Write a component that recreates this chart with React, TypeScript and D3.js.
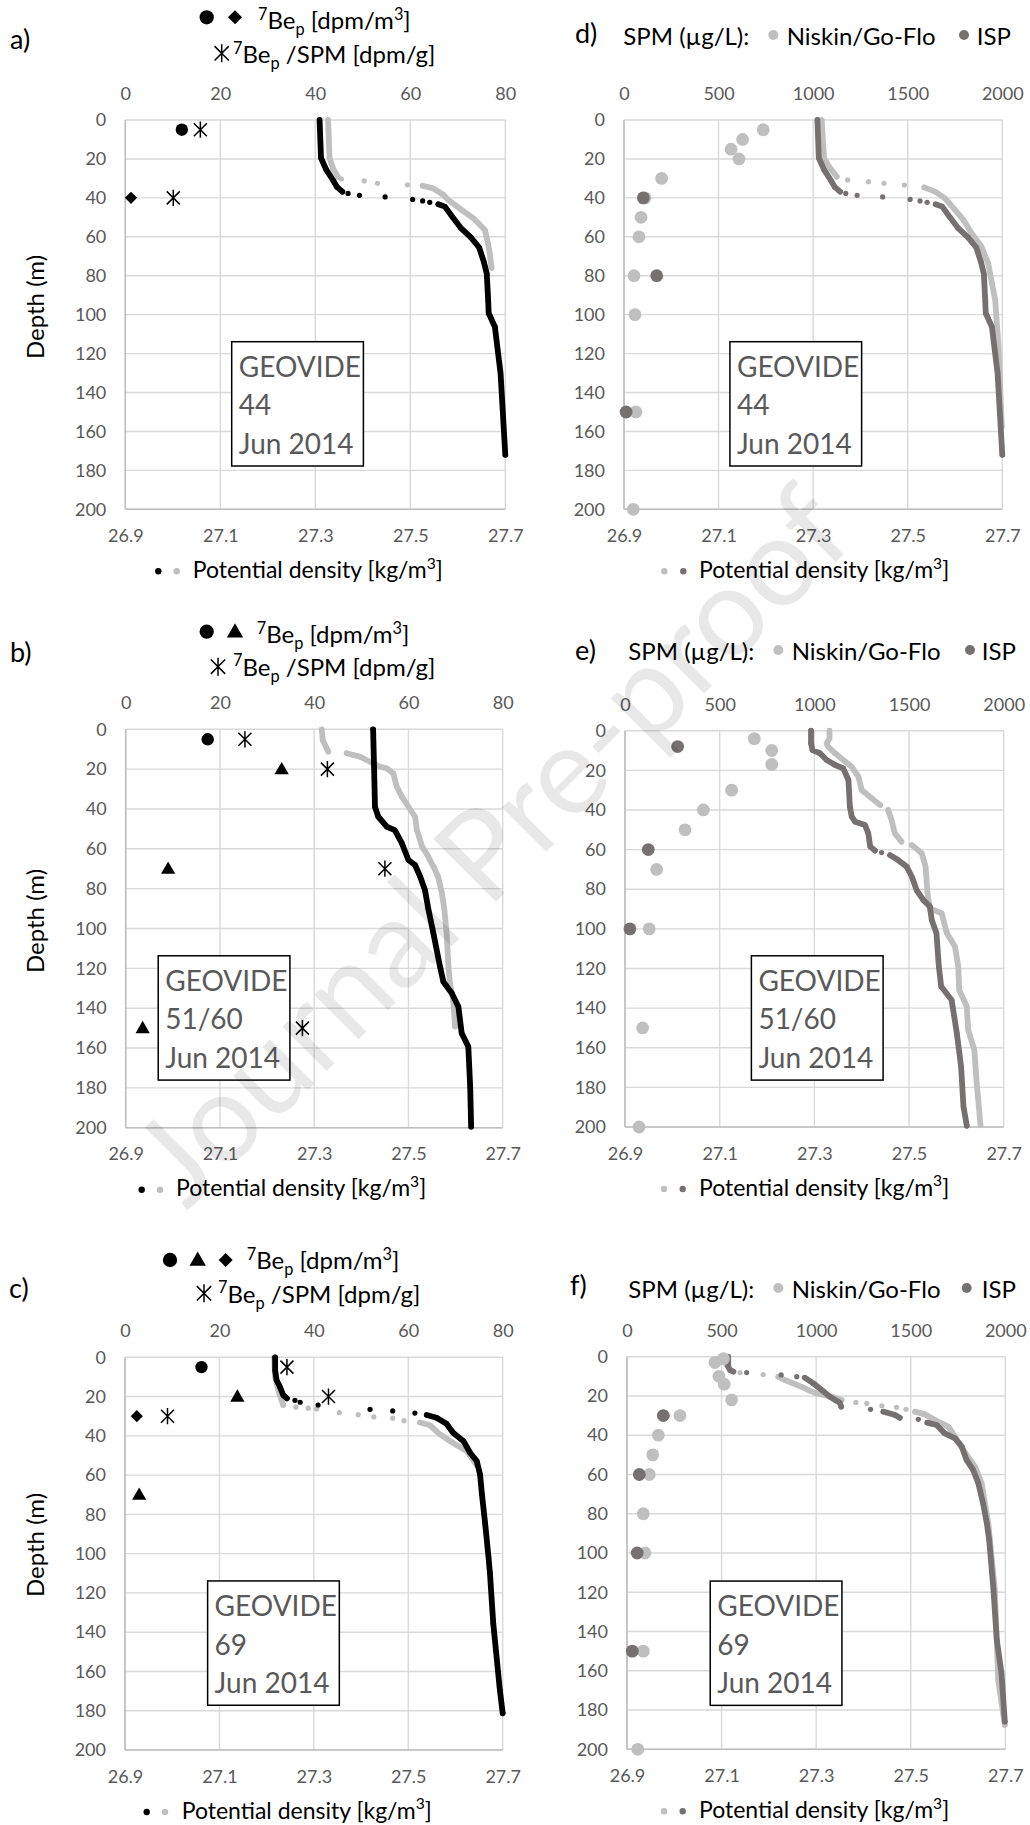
import React, { useEffect, useRef } from 'react'
import * as d3 from 'd3'

type P = [number, number] | null

// ---- axis ticks
const sigmaTicks = [26.9, 27.1, 27.3, 27.5, 27.7]
const beTicks = [0, 20, 40, 60, 80]
const spmTicks = [0, 500, 1000, 1500, 2000]
const depthTicks = [0, 20, 40, 60, 80, 100, 120, 140, 160, 180, 200]

// ---- potential density profiles: [depth m, sigma kg/m3], null = gap between points
const sigma44Black: P[] = [
  [0, 27.309], [19.5, 27.312], [25.5, 27.323], [30.8, 27.337], [34.5, 27.346], [36.8, 27.357], null,
  [37.7, 27.369], null, [38.7, 27.393], null, [39.5, 27.447], null, [40.8, 27.505], null, [41.6, 27.526], null,
  [42.3, 27.541], null, [43.3, 27.559], [44.5, 27.573], [49.9, 27.589], [55.4, 27.606], [60.2, 27.627],
  [65.5, 27.645], [73, 27.655], [79, 27.661], [93, 27.664], [99.3, 27.665], [106.2, 27.678], [130, 27.69], [172, 27.7],
]
const sigma44GreyA: P[] = [
  [0, 27.327], [19.7, 27.33], [25.3, 27.338], [29.3, 27.348], null, [30.3, 27.355], null, [31.3, 27.403], null,
  [32.5, 27.431], null, [33.3, 27.494], null, [33.8, 27.526], [35.1, 27.548], [38.5, 27.57], [41.1, 27.58],
  [46.2, 27.608], [50.5, 27.633], [56.5, 27.657], [61.6, 27.662], [68, 27.667], [76, 27.671],
]
const sigma44Light: P[] = [
  [0, 27.318], [19.8, 27.323], [24.8, 27.336], [29.1, 27.35], null, [30.8, 27.373], null, [31.7, 27.417], null,
  [32.5, 27.45], null, [33.4, 27.493], null, [34.6, 27.535], [36.8, 27.558], [40.3, 27.579], [46.2, 27.6],
  [51.4, 27.618], [58.2, 27.635], [65.1, 27.656], [73.6, 27.67], [92.5, 27.685], [116.5, 27.692], [157.6, 27.699],
]
const sigma5160Black: P[] = [
  [0, 27.425], [18.8, 27.427], [38.9, 27.429], [43.9, 27.436], [48.9, 27.454], [50.6, 27.471], [57.2, 27.486],
  [65.6, 27.5], [68.1, 27.514], [74, 27.525], [80.7, 27.535], [90, 27.542], [102.4, 27.553], [119.2, 27.567],
  [126.7, 27.574], [132.5, 27.592], [139.3, 27.606], [152.6, 27.613], [159.3, 27.627], [179.4, 27.631], [199.5, 27.633],
]
const sigma5160Grey: P[] = [
  [0, 27.316], [5.4, 27.318], [11.2, 27.33], null, [12, 27.369], [12.9, 27.383], [13.7, 27.397], [15.4, 27.411],
  [16.7, 27.422], [18.8, 27.44], [19.6, 27.454], [22.1, 27.468], [28.8, 27.475], [33.8, 27.486], [38.9, 27.5],
  [43.9, 27.514], [50.6, 27.518], [58.9, 27.529], [63.9, 27.542], [68.9, 27.553], [74, 27.563], [82.3, 27.571],
  [90, 27.576], [102.4, 27.581], [119.2, 27.585], [127.5, 27.588], [135.9, 27.595], [149.2, 27.599],
]
const sigma5160Dark: P[] = [
  [0, 27.293], [6.4, 27.293], [9.8, 27.296], [11.4, 27.312], [14.8, 27.326], [17.3, 27.344], [19, 27.361],
  [24.9, 27.372], [38.3, 27.375], [43.4, 27.379], [45.9, 27.386], [47.6, 27.407], [51.8, 27.414], [58.5, 27.418],
  [60.5, 27.428], null, [61.5, 27.442], null, [62.8, 27.46], [65.3, 27.477], [68.6, 27.495], [73.7, 27.506],
  [80.4, 27.516], [85.4, 27.53], [88.8, 27.544], [95.5, 27.548], [102.2, 27.558], [119, 27.563], [129.1, 27.568],
  [135.9, 27.59], [152.7, 27.601], [169.5, 27.61], [189.6, 27.615], [199.4, 27.622],
]
const sigma5160Light: P[] = [
  [0, 27.332], [3.9, 27.332], [6.4, 27.326], [8, 27.329], [11.4, 27.344], [14.8, 27.361], [18.2, 27.379],
  [23.2, 27.393], [29.9, 27.4], [34.1, 27.421], [37.5, 27.439], null, [40, 27.456], [45, 27.463], [51.8, 27.47],
  [56, 27.484], null, [57.7, 27.506], [61.9, 27.527], [68.6, 27.535], [82.1, 27.539], [89.7, 27.544],
  [92.1, 27.569], [102.2, 27.58], [108.9, 27.597], [119, 27.604], [130.8, 27.606], [139.2, 27.622], [151, 27.625],
  [161.1, 27.638], [177.9, 27.643], [199.1, 27.651],
]
const sigma69Black: P[] = [
  [0, 27.218], [6.5, 27.218], [11.6, 27.221], [15, 27.228], [19.2, 27.235], [20.9, 27.243], null, [21.9, 27.26],
  null, [22.9, 27.271], null, [24.3, 27.309], null, [26.5, 27.419], null, [27.3, 27.467], null, [28.4, 27.514],
  null, [29.4, 27.539], [30.8, 27.56], [33.8, 27.581], [38.4, 27.595], [42.7, 27.617], [48.6, 27.631],
  [52.8, 27.645], [59.6, 27.652], [69.8, 27.656], [85.1, 27.663], [102, 27.67], [110, 27.673], [135.5, 27.68],
  [152.5, 27.687], [169.4, 27.694], [181.3, 27.7],
]
const sigma69Grey: P[] = [
  [0, 27.216], [10, 27.218], [18, 27.226], [24.3, 27.235], null, [25.4, 27.262], null, [25.9, 27.288], null,
  [26.3, 27.306], null, [28.2, 27.354], null, [29.2, 27.394], null, [30.3, 27.427], null, [31, 27.467], null,
  [32.3, 27.491], null, [33.2, 27.525], [34.6, 27.546], [39.2, 27.567], [42.6, 27.588], [48, 27.625], [55, 27.645],
]
const sigma69Dark: P[] = [
  [0, 27.114], [5.1, 27.114], [6.8, 27.118], [7.6, 27.125], null, [8.1, 27.153], null, [9.3, 27.226], null,
  [10.2, 27.259], null, [10.7, 27.276], [13.6, 27.294], [17, 27.312], [20.4, 27.329], [23.5, 27.35], [25.5, 27.353],
  null, [26.8, 27.415], null, [28, 27.442], [28.9, 27.456], [29.7, 27.467], [31.1, 27.477], null, [31.9, 27.516],
  null, [33.6, 27.535], [34.8, 27.555], [39.1, 27.572], [41.6, 27.594], [45.8, 27.608], [52.6, 27.618],
  [57.7, 27.632], [64.5, 27.643], [74.7, 27.653], [84.9, 27.661], [93.5, 27.666], [118.8, 27.675],
  [144.3, 27.682], [161.3, 27.692], [185.9, 27.699],
]
const sigma69Light: P[] = [
  [0, 27.108], [4, 27.11], null, [8.1, 27.139], null, [9.1, 27.188], null, [10.2, 27.22], [11.9, 27.234],
  [15.3, 27.269], [17.4, 27.287], [18.7, 27.301], [20.4, 27.333], [22.1, 27.354], null, [23.3, 27.384], null,
  [23.8, 27.407], null, [25, 27.439], null, [25.8, 27.47], null, [26.8, 27.49], null, [28, 27.509], [29.4, 27.53],
  [32.2, 27.551], [35.6, 27.579], [38.2, 27.587], [47.5, 27.611], [56, 27.636], [64.5, 27.65], [84.9, 27.664],
  [118.8, 27.678], [164.7, 27.685], [187.6, 27.699],
]

// ---- 7Be_p (dpm/m3) and 7Be_p/SPM (dpm/g): [depth m, value]
const beCircle44: [number, number][] = [[5, 11.9]]
const beDiamond44: [number, number][] = [[40, 1.2]]
const beRatio44: [number, number][] = [[5, 15.8], [40, 10.1]]
const beCircle5160: [number, number][] = [[5, 17.4]]
const beTriangle5160: [number, number][] = [[20, 33.1], [70, 9.0], [150, 3.6]]
const beRatio5160: [number, number][] = [[5, 25.3], [20, 42.8], [70, 55.0], [150, 37.5]]
const beCircle69: [number, number][] = [[5, 16.2]]
const beTriangle69: [number, number][] = [[20, 23.8], [70, 3.0]]
const beDiamond69: [number, number][] = [[30, 2.5]]
const beRatio69: [number, number][] = [[5, 34.3], [20, 43.1], [30, 9.0]]

// ---- SPM (ug/L): [depth m, value]
const spmNiskin44: [number, number][] = [[5, 736], [10, 627], [15, 566], [20, 608], [30, 199], [40, 111], [50, 90], [60, 79], [80, 53], [100, 58], [150, 63], [200, 49]]
const spmIsp44: [number, number][] = [[40, 102], [80, 173], [150, 11]]
const spmNiskin5160: [number, number][] = [[4, 683], [10, 775], [17, 775], [30, 563], [40, 414], [50, 317], [70, 167], [100, 128], [150, 93], [200, 74]]
const spmIsp5160: [number, number][] = [[8, 278], [60, 123], [100, 26]]
const spmNiskin69: [number, number][] = [[1, 510], [3, 465], [10, 486], [14, 514], [22, 553], [30, 280], [40, 166], [50, 136], [60, 118], [80, 86], [100, 95], [150, 86], [200, 57]]
const spmIsp69: [number, number][] = [[30, 192], [60, 65], [100, 54], [150, 28]]

const FONT = "Lato, 'Open Sans', sans-serif"
const BLACK = '#000000'
const GREY = '#bfbfbf'
const DARK = '#767171'
const GRID = '#d9d9d9'
const AXIS = '#bfbfbf'
const TICK = '#595959'

const panels: any[] = [
  {
    kind: 'be', letter: 'a)', frame: { left: 125.3, right: 505.3, top: 120, bottom: 509.3 }, title: [10, 49.3],
    legend: { y1: 17.3, b1: 29.3, y2: 53.3, b2: 63.3, marks: [['circle', 206.7], ['diamond', 235]], t1: 258, star: 221.7, t2: 233 },
    dens: { x: 192.7, dots: [158.3, 176.7], colors: [BLACK, GREY] }, depthY: 307,
    note: { sigma: 27.124, depth: 113.9, lines: ['GEOVIDE', '44', 'Jun 2014'] },
    profiles: [[sigma44GreyA, GREY], [sigma44Black, BLACK]],
    circles: beCircle44, triangles: [], diamonds: beDiamond44, ratio: beRatio44,
  },
  {
    kind: 'be', letter: 'b)', frame: { left: 125.7, right: 502.7, top: 729.3, bottom: 1127.7 }, title: [10, 661.7],
    legend: { y1: 631.7, b1: 643.3, y2: 666.7, b2: 676, marks: [['circle', 206.7], ['triangle', 235]], t1: 256.7, star: 218, t2: 233 },
    dens: { x: 176, dots: [141.7, 160], colors: [BLACK, GREY] }, depthY: 921,
    note: { sigma: 26.969, depth: 113.7, lines: ['GEOVIDE', '51/60', 'Jun 2014'] },
    profiles: [[sigma5160Grey, GREY], [sigma5160Black, BLACK]],
    circles: beCircle5160, triangles: beTriangle5160, diamonds: [], ratio: beRatio5160,
  },
  {
    kind: 'be', letter: 'c)', frame: { left: 125, right: 502.7, top: 1357.3, bottom: 1750 }, title: [9, 1298],
    legend: { y1: 1260, b1: 1269.3, y2: 1293.3, b2: 1302.7, marks: [['circle', 170], ['triangle', 197.7], ['diamond', 225.7]], t1: 246.7, star: 204, t2: 218 },
    dens: { x: 181.7, dots: [146.7, 165], colors: [BLACK, GREY] }, depthY: 1545,
    note: { sigma: 27.075, depth: 113.9, lines: ['GEOVIDE', '69', 'Jun 2014'] },
    profiles: [[sigma69Grey, GREY], [sigma69Black, BLACK]],
    circles: beCircle69, triangles: beTriangle69, diamonds: beDiamond69, ratio: beRatio69,
  },
  {
    kind: 'spm', letter: 'd)', frame: { left: 624, right: 1002.3, top: 120, bottom: 509.3 }, title: [575, 43.3],
    legend: { b: 45, dotY: 35, spm: 623.3, dot1: 773.3, nis: 786.7, dot2: 964, isp: 976.7 },
    dens: { x: 699, dots: [664.3, 683.3], colors: [GREY, DARK] },
    note: { sigma: 27.124, depth: 113.9, lines: ['GEOVIDE', '44', 'Jun 2014'] },
    profiles: [[sigma44Light, GREY], [sigma44Black, DARK]],
    niskin: spmNiskin44, isp: spmIsp44,
  },
  {
    kind: 'spm', letter: 'e)', frame: { left: 625, right: 1003.7, top: 730.7, bottom: 1127 }, title: [575, 660],
    legend: { b: 660, dotY: 650, spm: 628.3, dot1: 778.3, nis: 791.7, dot2: 970, isp: 981.7 },
    dens: { x: 699, dots: [664, 682.7], colors: [GREY, DARK] },
    note: { sigma: 27.167, depth: 113.6, lines: ['GEOVIDE', '51/60', 'Jun 2014'] },
    profiles: [[sigma5160Light, GREY], [sigma5160Dark, DARK]],
    niskin: spmNiskin5160, isp: spmIsp5160,
  },
  {
    kind: 'spm', letter: 'f)', frame: { left: 627, right: 1005.3, top: 1356.7, bottom: 1749.3 }, title: [570, 1295],
    legend: { b: 1297.5, dotY: 1288, spm: 628.3, dot1: 778.3, nis: 791.7, dot2: 966.7, isp: 981.7 },
    dens: { x: 699, dots: [664, 682.7], colors: [GREY, DARK] },
    note: { sigma: 27.076, depth: 114.3, lines: ['GEOVIDE', '69', 'Jun 2014'] },
    profiles: [[sigma69Light, GREY], [sigma69Dark, DARK]],
    niskin: spmNiskin69, isp: spmIsp69,
  },
]

function runs(data: P[]) {
  const out: [number, number][][] = []
  let cur: [number, number][] = []
  data.forEach(d => {
    if (d) cur.push(d)
    else { if (cur.length) out.push(cur); cur = [] }
  })
  if (cur.length) out.push(cur)
  return out
}

// text with super/subscripts
function rich(sel: any, parts: [string, string][], size: number) {
  let shift = 0
  parts.forEach(([t, k]) => {
    const target = k === 'sup' ? -0.4 * size : k === 'sub' ? 0.25 * size : 0
    sel.append('tspan').attr('dy', target - shift).attr('font-size', k === 'n' ? size : size * 0.68).text(t)
    shift = target
  })
}

const starPath = (s: number) => `M${-s},${-s}L${s},${s}M${-s},${s}L${s},${-s}M0,${-s * 1.25}L0,${s * 1.25}`

function marker(g: any, type: string, cx: number, cy: number, scale = 1) {
  if (type === 'circle') {
    g.append('circle').attr('cx', cx).attr('cy', cy).attr('r', 6.2 * scale).attr('fill', BLACK)
  } else if (type === 'triangle') {
    g.append('path').attr('transform', `translate(${cx},${cy + 1})`)
      .attr('d', d3.symbol().type(d3.symbolTriangle).size(88 * scale * scale)()).attr('fill', BLACK)
  } else if (type === 'diamond') {
    g.append('path').attr('transform', `translate(${cx},${cy}) rotate(45)`)
      .attr('d', d3.symbol().type(d3.symbolSquare).size(74 * scale * scale)()).attr('fill', BLACK)
  } else {
    g.append('path').attr('transform', `translate(${cx},${cy})`).attr('d', starPath(6.5 * scale))
      .attr('stroke', BLACK).attr('stroke-width', 1.5).attr('fill', 'none')
  }
}

function drawPanel(svg: any, p: any) {
  const f = p.frame
  const x = d3.scaleLinear().domain([26.9, 27.7]).range([f.left, f.right])
  const xTop = d3.scaleLinear().domain(p.kind === 'be' ? [0, 80] : [0, 2000]).range([f.left, f.right])
  const y = d3.scaleLinear().domain([0, 200]).range([f.top, f.bottom])
  const g = svg.append('g')

  // grid
  g.append('g').selectAll('line').data(depthTicks).join('line')
    .attr('x1', f.left).attr('x2', f.right).attr('y1', (d: number) => y(d)).attr('y2', (d: number) => y(d))
    .attr('stroke', GRID).attr('stroke-width', 1.4)
  g.append('g').selectAll('line').data(sigmaTicks).join('line')
    .attr('x1', (d: number) => x(d)).attr('x2', (d: number) => x(d)).attr('y1', f.top).attr('y2', f.bottom)
    .attr('stroke', GRID).attr('stroke-width', 1.4)
  g.append('line').attr('x1', f.left).attr('x2', f.left).attr('y1', f.top).attr('y2', f.bottom)
    .attr('stroke', AXIS).attr('stroke-width', 1.6)
  g.append('line').attr('x1', f.left).attr('x2', f.right).attr('y1', f.bottom).attr('y2', f.bottom)
    .attr('stroke', AXIS).attr('stroke-width', 1.6)

  // axes labels
  const style = (a: any) => {
    a.select('.domain').remove()
    a.attr('font-family', FONT).attr('font-size', 18)
    a.selectAll('text').attr('fill', TICK)
  }
  g.append('g').attr('transform', `translate(0,${f.bottom})`)
    .call(d3.axisBottom(x).tickValues(sigmaTicks).tickFormat(d3.format('.1f')).tickSize(0).tickPadding(20)).call(style)
  g.append('g').attr('transform', `translate(0,${f.top})`)
    .call(d3.axisTop(xTop).tickValues(p.kind === 'be' ? beTicks : spmTicks).tickFormat(d3.format('d')).tickSize(0).tickPadding(20)).call(style)
  g.append('g').attr('transform', `translate(${f.left},0)`)
    .call(d3.axisLeft(y).tickValues(depthTicks).tickFormat(d3.format('d')).tickSize(0).tickPadding(19)).call(style)

  // annotation box
  const bx = x(p.note.sigma), by = y(p.note.depth)
  g.append('rect').attr('x', bx).attr('y', by).attr('width', 131.7).attr('height', 124.3)
    .attr('fill', '#fff').attr('stroke', BLACK).attr('stroke-width', 1.5)
  p.note.lines.forEach((t: string, i: number) => {
    g.append('text').attr('x', bx + 7).attr('y', by + 35 + i * 38.7).attr('font-size', 28)
      .attr('fill', TICK).attr('font-family', FONT).text(t)
  })

  // density profiles
  const line = d3.line<[number, number]>().x(d => x(d[1])).y(d => y(d[0]))
  p.profiles.forEach(([data, color]: [P[], string]) => {
    const pg = g.append('g')
    runs(data).filter(r => r.length > 1).forEach(r => {
      pg.append('path').attr('d', line(r)).attr('fill', 'none').attr('stroke', color)
        .attr('stroke-width', 5.8).attr('stroke-linecap', 'round').attr('stroke-linejoin', 'round')
    })
    pg.selectAll('circle').data(data.filter(d => d) as [number, number][]).join('circle')
      .attr('cx', d => x(d[1])).attr('cy', d => y(d[0])).attr('r', 2.6).attr('fill', color)
  })

  if (p.kind === 'be') {
    p.circles.forEach((d: [number, number]) => marker(g, 'circle', xTop(d[1]), y(d[0])))
    p.triangles.forEach((d: [number, number]) => marker(g, 'triangle', xTop(d[1]), y(d[0])))
    p.diamonds.forEach((d: [number, number]) => marker(g, 'diamond', xTop(d[1]), y(d[0])))
    p.ratio.forEach((d: [number, number]) => marker(g, 'star', xTop(d[1]), y(d[0])))

    const L = p.legend
    L.marks.forEach(([t, cx]: [string, number]) => marker(svg, t, cx, L.y1, 1.15))
    marker(svg, 'star', L.star, L.y2, 1.1)
    rich(svg.append('text').attr('x', L.t1).attr('y', L.b1).attr('font-family', FONT).attr('font-size', 24).attr('fill', BLACK),
      [['7', 'sup'], ['Be', 'n'], ['p', 'sub'], [' [dpm/m', 'n'], ['3', 'sup'], [']', 'n']], 24)
    rich(svg.append('text').attr('x', L.t2).attr('y', L.b2).attr('font-family', FONT).attr('font-size', 24).attr('fill', BLACK),
      [['7', 'sup'], ['Be', 'n'], ['p', 'sub'], [' /SPM [dpm/g]', 'n']], 24)

    svg.append('text').attr('transform', `translate(34,${p.depthY}) rotate(-90)`).attr('text-anchor', 'middle')
      .attr('dominant-baseline', 'central').attr('font-family', FONT).attr('font-size', 24).attr('fill', BLACK).text('Depth (m)')
  } else {
    g.append('g').selectAll('circle').data(p.niskin).join('circle')
      .attr('cx', (d: [number, number]) => xTop(d[1])).attr('cy', (d: [number, number]) => y(d[0])).attr('r', 6.4).attr('fill', GREY)
    g.append('g').selectAll('circle').data(p.isp).join('circle')
      .attr('cx', (d: [number, number]) => xTop(d[1])).attr('cy', (d: [number, number]) => y(d[0])).attr('r', 6.4).attr('fill', DARK)

    const L = p.legend
    const t = (xx: number, s: string) => svg.append('text').attr('x', xx).attr('y', L.b)
      .attr('font-family', FONT).attr('font-size', 24).attr('fill', BLACK).text(s)
    t(L.spm, 'SPM (µg/L):')
    t(L.nis, 'Niskin/Go-Flo')
    t(L.isp, 'ISP')
    svg.append('circle').attr('cx', L.dot1).attr('cy', L.dotY).attr('r', 5).attr('fill', GREY)
    svg.append('circle').attr('cx', L.dot2).attr('cy', L.dotY).attr('r', 5).attr('fill', DARK)
  }

  // title letter
  svg.append('text').attr('x', p.title[0]).attr('y', p.title[1]).attr('font-family', FONT)
    .attr('font-size', 27).attr('fill', BLACK).text(p.letter)

  // density legend under the plot
  const baseY = f.bottom + 68.5
  p.dens.colors.forEach((color: string, i: number) => {
    svg.append('circle').attr('cx', p.dens.dots[i]).attr('cy', baseY - 6.5).attr('r', 3.2).attr('fill', color)
  })
  rich(svg.append('text').attr('x', p.dens.x).attr('y', baseY).attr('font-family', FONT).attr('font-size', 23).attr('fill', BLACK),
    [['Potential density [kg/m', 'n'], ['3', 'sup'], [']', 'n']], 23)
}

export default function App() {
  const svgRef = useRef<SVGSVGElement>(null)

  useEffect(() => {
    const svg = d3.select(svgRef.current)
    svg.selectAll('*').remove()
    svg.append('rect').attr('width', 1030).attr('height', 1825).attr('fill', '#fff')
    panels.forEach(p => drawPanel(svg, p))

    // watermark
    svg.append('text').attr('transform', 'translate(488,842) rotate(-45)').attr('text-anchor', 'middle')
      .attr('dominant-baseline', 'central').attr('font-family', FONT).attr('font-size', 124)
      .attr('fill', '#000').attr('fill-opacity', 0.09).text('Journal Pre-proof')
  }, [])

  return (
    <svg ref={svgRef} width={1030} height={1825}
      style={{ position: 'absolute', left: 0, top: 0, background: '#fff' }} />
  )
}
